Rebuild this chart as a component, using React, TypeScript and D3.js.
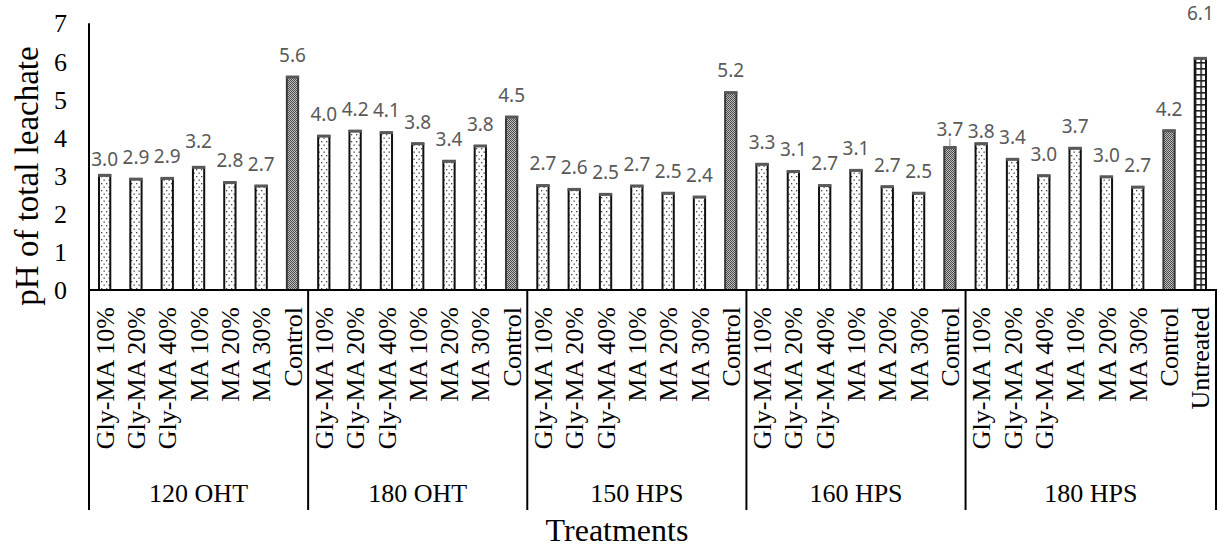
import React from "react";
import * as d3 from "d3";

const categories = ["Gly-MA 10%", "Gly-MA 20%", "Gly-MA 40%", "MA 10%", "MA 20%", "MA 30%", "Control"];
const groups = ["120 OHT", "180 OHT", "150 HPS", "160 HPS", "180 HPS"];
const oht120 = [3.01, 2.91, 2.93, 3.22, 2.82, 2.73, 5.59];
const oht180 = [4.04, 4.17, 4.13, 3.84, 3.38, 3.78, 4.54];
const hps150 = [2.74, 2.64, 2.51, 2.73, 2.54, 2.44, 5.18];
const hps160 = [3.3, 3.11, 2.74, 3.14, 2.71, 2.54, 3.74];
const hps180 = [3.84, 3.43, 3.0, 3.72, 2.97, 2.7, 4.18];
const untreatedLabel = "Untreated";
const untreatedValue = 6.08;
const yTicks = [0, 1, 2, 3, 4, 5, 6, 7];

const W = 1219;
const H = 549;
const M = { left: 89, right: 1216, top: 23.3, bottom: 290 };

// manual label nudges (px, positive = down), as placed in the original
const labelNudge: Record<string, number> = { "0-0": 6, "0-3": -4, "4-0": 9, "3-6": 4, u: -23 };

type Item = { key: string; cat: string; value: number; kind: "dot" | "control" | "grid"; group: number };

export default function App() {
  const series = [oht120, oht180, hps150, hps160, hps180];
  const items: Item[] = [];
  series.forEach((vals, gi) => {
    vals.forEach((v, ci) => {
      items.push({ key: `${gi}-${ci}`, cat: categories[ci], value: v, kind: ci === 6 ? "control" : "dot", group: gi });
    });
  });
  items.push({ key: "u", cat: untreatedLabel, value: untreatedValue, kind: "grid", group: 4 });

  const x = d3.scaleBand<number>().domain(d3.range(items.length)).range([M.left, M.right]).padding(0);
  const y = d3.scaleLinear().domain([0, 7]).range([M.bottom, M.top]);
  const bw = x.bandwidth();
  const barW = bw * 0.36;

  const groupRanges = groups.map((g, gi) => {
    const idx = items.map((it, i) => (it.group === gi ? i : -1)).filter((i) => i >= 0);
    const x0 = x(idx[0])!;
    const x1 = x(idx[idx.length - 1])! + bw;
    return { g, x0, x1 };
  });
  const boundaries = [M.left, ...groupRanges.map((r) => r.x1)];

  const untreatedIdx = items.length - 1;
  const ux = x(untreatedIdx)! + (bw - barW) / 2;

  return (
    <svg width={W} height={H} style={{ position: "absolute", left: 0, top: 0, background: "#fff" }}>
      <defs>
        <pattern id="dots" patternUnits="userSpaceOnUse" width="5" height="7">
          <rect width="5" height="7" fill="#fff" />
          <rect x="1" y="1" width="1.3" height="1.3" fill="#444" />
          <rect x="3.5" y="4.5" width="1.3" height="1.3" fill="#444" />
        </pattern>
        <pattern id="checker" patternUnits="userSpaceOnUse" width="2" height="2">
          <rect width="2" height="2" fill="#c0c0c0" />
          <rect x="0" y="0" width="1" height="1" fill="#4a4a4a" />
          <rect x="1" y="1" width="1" height="1" fill="#4a4a4a" />
        </pattern>
        <pattern id="grid" patternUnits="userSpaceOnUse" x={ux} y={M.bottom} width={barW / 2} height="6">
          <rect width={barW / 2} height="6" fill="#fff" />
          <rect x="0" y="0" width={barW / 2} height="1.6" fill="#222" />
          <rect x="0" y="0" width="1.6" height="6" fill="#222" />
        </pattern>
      </defs>

      {yTicks.map((t) => (
        <text key={t} x={67} y={y(t)} dy="0.35em" textAnchor="end" fontFamily="Liberation Serif" fontSize={26} fill="#000">
          {t}
        </text>
      ))}

      <text
        transform={`translate(38,176) rotate(-90)`}
        textAnchor="middle"
        fontFamily="Liberation Serif"
        fontSize={33}
        fill="#000"
      >
        pH of total leachate
      </text>

      {items.map((it, i) => {
        const bx = x(i)! + (bw - barW) / 2;
        const by = y(it.value);
        const bh = M.bottom - by;
        const fill = it.kind === "dot" ? "url(#dots)" : it.kind === "control" ? "url(#checker)" : "url(#grid)";
        const stroke = it.kind === "control" ? "#3a3a3a" : "#111";
        return (
          <g key={it.key}>
            <rect x={bx} y={by} width={barW} height={bh} fill={fill} stroke={stroke} strokeWidth={2} />
            <rect x={bx - 1} y={by - 1.5} width={barW + 2} height={3} fill="#595959" />
          </g>
        );
      })}

      {items.map((it, i) => {
        const cx = x(i)! + bw / 2;
        const by = y(it.value);
        const nudge = labelNudge[it.key] ?? 0;
        const cy = by - 22 + nudge;
        const leader = it.key === "3-6";
        return (
          <g key={"l" + it.key}>
            {leader && <line x1={cx} x2={cx} y1={cy + 9} y2={by - 1} stroke="#8c8c8c" strokeWidth={1} />}
            <text x={cx} y={cy} dy="0.36em" textAnchor="middle" fontFamily="Noto Sans" fontSize={19} fill="#595959">
              {it.value.toFixed(1)}
            </text>
          </g>
        );
      })}

      <line x1={M.left} x2={M.left} y1={M.top} y2={M.bottom} stroke="#000" strokeWidth={2} />
      <line x1={M.left - 1} x2={M.right + 1} y1={M.bottom} y2={M.bottom} stroke="#000" strokeWidth={2} />
      {boundaries.map((bx, i) => (
        <line key={"b" + i} x1={bx} x2={bx} y1={M.bottom} y2={510} stroke="#000" strokeWidth={2} />
      ))}

      {items.map((it, i) => {
        const cx = x(i)! + bw / 2;
        return (
          <text
            key={"c" + it.key}
            transform={`translate(${cx},${307}) rotate(-90)`}
            dy="0.35em"
            textAnchor="end"
            fontFamily="Liberation Serif"
            fontSize={26}
            fill="#000"
          >
            {it.cat}
          </text>
        );
      })}

      {groupRanges.map((r) => (
        <text key={r.g} x={(r.x0 + r.x1) / 2} y={502} textAnchor="middle" fontFamily="Liberation Serif" fontSize={26} fill="#000">
          {r.g}
        </text>
      ))}

      <text x={617} y={541} textAnchor="middle" fontFamily="Liberation Serif" fontSize={32} fill="#000">
        Treatments
      </text>
    </svg>
  );
}
